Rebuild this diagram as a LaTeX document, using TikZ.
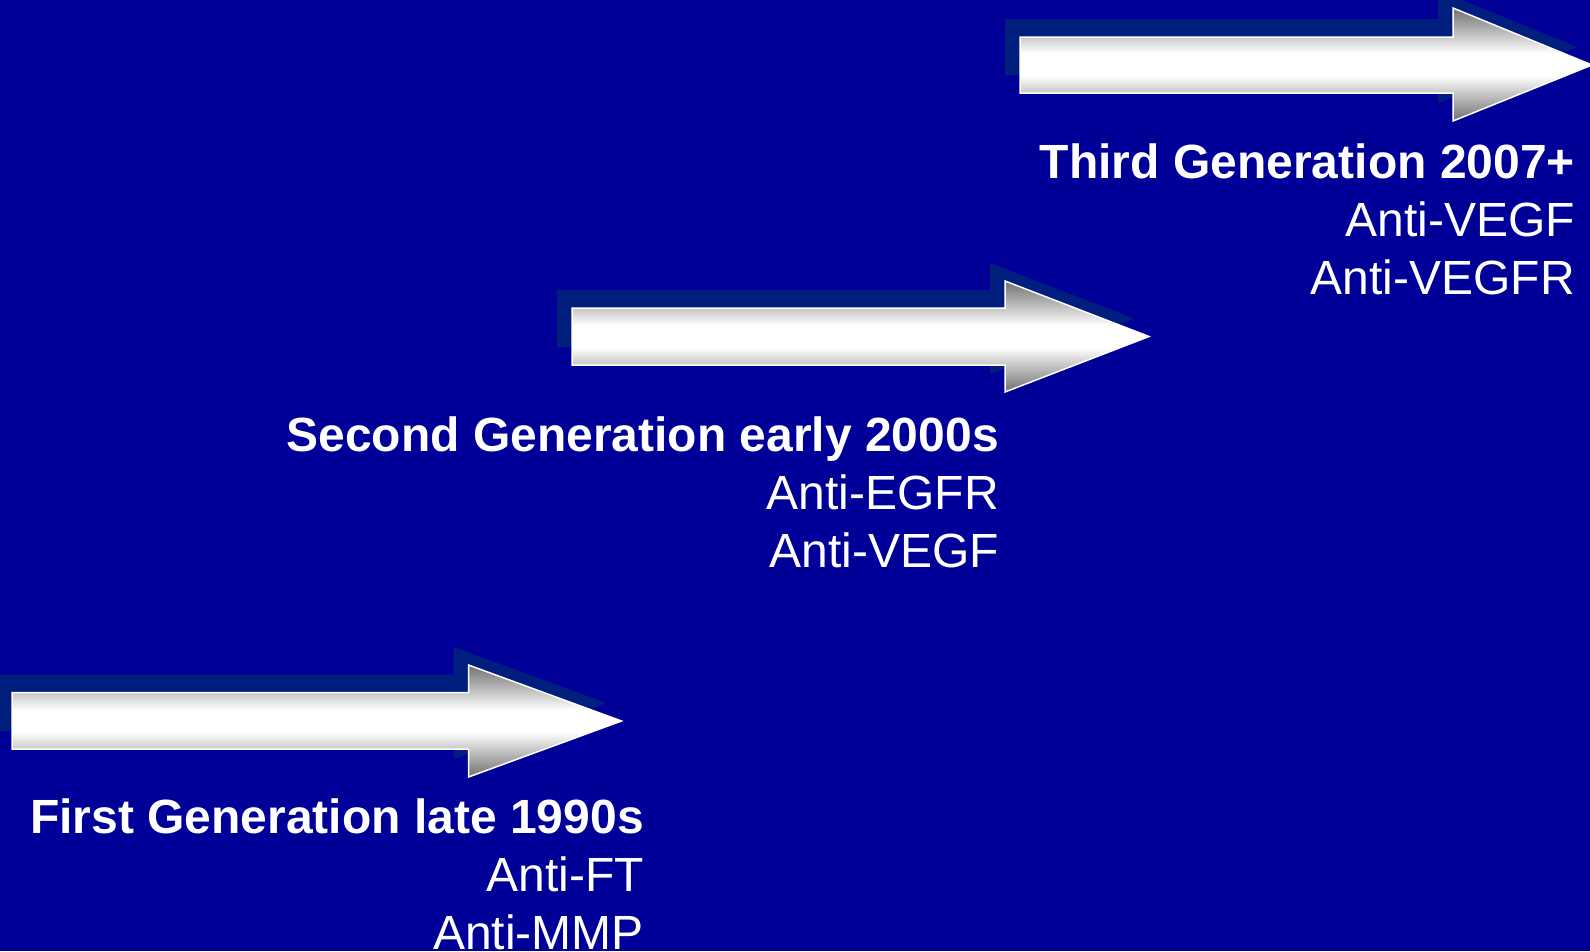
\documentclass[tikz,border=0pt]{standalone}
\usepackage{fontspec}
\setmainfont{Liberation Sans}
\definecolor{bgblue}{RGB}{0,0,153}
\definecolor{shadowblue}{RGB}{0,30,125}
\definecolor{edgegray}{RGB}{112,112,112}
\definecolor{shaftgray}{RGB}{200,200,200}
\pgfdeclareverticalshading{arrowshade}{100bp}{color(0bp)=(edgegray); color(25bp)=(edgegray); color(37.5bp)=(shaftgray); color(45bp)=(white); color(55bp)=(white); color(62.5bp)=(shaftgray); color(75bp)=(edgegray); color(100bp)=(edgegray)}
\newcommand\genarrow[8]{%
  \fill[arrowshadow] (#1,#2) -- (#4,#2) -- (#4,#5) -- (#7,#8) -- (#4,#6) -- (#4,#3) -- (#1,#3) -- cycle;
  \path[arrowbody] (#1,#2) -- (#4,#2) -- (#4,#5) -- (#7,#8) -- (#4,#6) -- (#4,#3) -- (#1,#3) -- cycle;
}
\tikzset{
  arrowshadow/.style={shadowblue, shift={(-15,-18)}},
  arrowbody/.style={shade, shading=arrowshade, draw=white, line width=1.5pt, line join=miter},
  gentitle/.style={anchor=base east, inner sep=0pt, text=white, font=\fontsize{48}{57.6}\selectfont\bfseries},
  genline/.style={anchor=base east, inner sep=0pt, text=white, font=\fontsize{48}{57.6}\selectfont}
}
\begin{document}
\begin{tikzpicture}[x=1pt,y=-1pt]
\fill[bgblue] (0,0) rectangle (1590,951);
\useasboundingbox (0,0) rectangle (1590,951);
\clip (0,0) rectangle (1590,951);
% third generation arrow
\genarrow{1020}{37}{93}{1453}{8}{121}{1592}{65}
% second generation arrow
\genarrow{572}{308}{365}{1005}{281}{392}{1149}{336.5}
% first generation arrow
\genarrow{12}{692.5}{749}{468.5}{665}{777}{621.5}{721}
% texts
\node[gentitle] (t3) at (1575,178) {Third Generation 2007+};
\node[genline] (t3a) at (1575,236) {Anti-VEGF};
\node[genline] (t3b) at (1575,294) {Anti-VEGFR};
\node[gentitle] (t2) at (999,451) {Second Generation early 2000s};
\node[genline] (t2a) at (999,509) {Anti-EGFR};
\node[genline] (t2b) at (999,567) {Anti-VEGF};
\node[gentitle] (t1) at (644,833) {First Generation late 1990s};
\node[genline] (t1a) at (644,891) {Anti-FT};
\node[genline] (t1b) at (644,949) {Anti-MMP};
\end{tikzpicture}
\end{document}
